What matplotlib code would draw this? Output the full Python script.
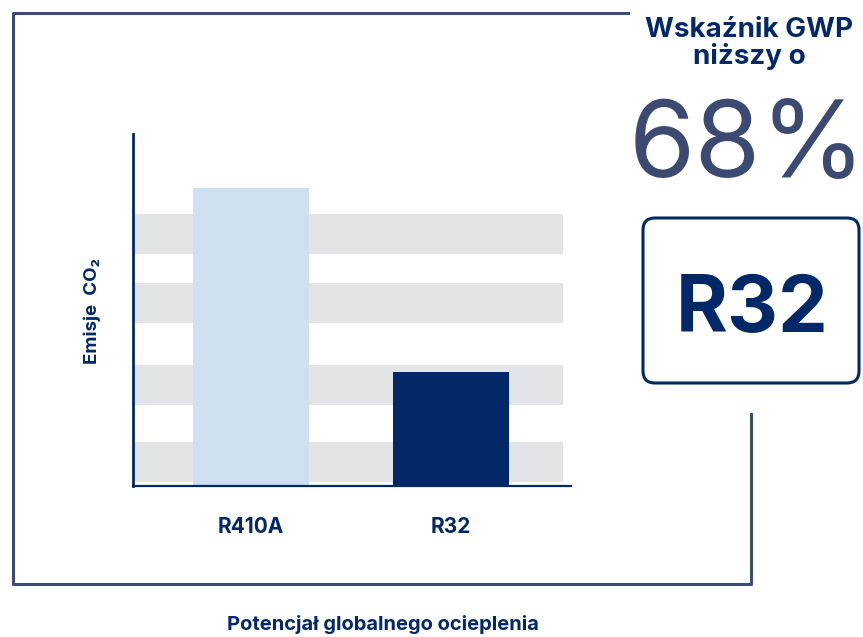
import matplotlib
matplotlib.use("Agg")
import matplotlib.pyplot as plt
from matplotlib.patches import FancyBboxPatch
from matplotlib.lines import Line2D

plt.rcParams['font.family'] = ['Inter', 'DejaVu Sans']

# ---- data ----
categories = ["R410A", "R32"]
emissions = [84.7, 32.4]          # relative CO2 emissions (arbitrary units)
band_ranges = [(1.1, 12.5), (23.0, 34.4), (46.3, 57.7), (65.9, 77.3)]
ylabel = "Emisje  CO₂"
xlabel = "Potencjał globalnego ocieplenia"
headline = ["Wskaźnik GWP", "niższy o"]
big_value = "68%"
badge = "R32"

NAVY = "#022868"
LIGHT = "#cfe0f0"
BAND = "#e3e4e6"
FRAME = "#3d4b78"
BIG = "#3c4a72"

W, H = 863, 637
fig = plt.figure(figsize=(W / 100, H / 100), dpi=100)

def fx(x):
    return x / W

def fy(y):
    return 1 - y / H

# chart axes
ax = fig.add_axes([fx(133), fy(486), (571 - 133) / W, (486 - 134) / H])
x = [0, 1]
ax.set_xlim(-0.59, 1.6)
ax.set_ylim(0, 100)
for lo, hi in band_ranges:
    ax.axhspan(lo, hi, xmin=0.005, xmax=0.982, color=BAND, lw=0, zorder=0)
ax.bar(x, emissions, width=0.58, color=[LIGHT, NAVY], zorder=2)
for s in ["top", "right"]:
    ax.spines[s].set_visible(False)
ax.spines["left"].set_color(NAVY)
ax.spines["left"].set_linewidth(2.0)
ax.spines["bottom"].set_color(NAVY)
ax.spines["bottom"].set_linewidth(1.6)
ax.set_yticks([])
ax.set_xticks(x)
ax.set_xticklabels(categories, fontsize=15, fontweight="bold", color=NAVY)
ax.tick_params(axis="x", length=0, pad=22)
ax.set_facecolor("none")

fig.text(fx(92), fy(311), ylabel, rotation=90, ha="center", va="center",
         fontsize=13.5, fontweight="bold", color=NAVY)
fig.text(fx(383), fy(625), xlabel, ha="center", va="center",
         fontsize=14.5, fontweight="bold", color=NAVY)

# overlay for frame and badge (pixel coordinates)
ov = fig.add_axes([0, 0, 1, 1])
ov.set_xlim(0, W)
ov.set_ylim(H, 0)
ov.axis("off")
ov.patch.set_visible(False)

frame_kw = dict(color=FRAME, lw=2.2, solid_capstyle="projecting")
ov.add_line(Line2D([628, 13, 13, 751, 751], [13, 13, 584, 584, 414], **frame_kw))

box = FancyBboxPatch((643, 218), 859 - 643, 383 - 218,
                     boxstyle="round,pad=0,rounding_size=12",
                     fc="white", ec=NAVY, lw=2.2)
ov.add_patch(box)
ov.text(752, 332, badge, ha="center", va="baseline", fontsize=57,
        fontweight="bold", color=NAVY)

ov.text(749, 37, headline[0], ha="center", va="baseline", fontsize=20,
        fontweight="bold", color=NAVY)
ov.text(749, 64, headline[1], ha="center", va="baseline", fontsize=20,
        fontweight="bold", color=NAVY)
ov.text(747, 177, big_value, ha="center", va="baseline", fontsize=77,
        fontweight="normal", color=BIG)

fig.savefig("out.png", dpi=100, facecolor="white")
